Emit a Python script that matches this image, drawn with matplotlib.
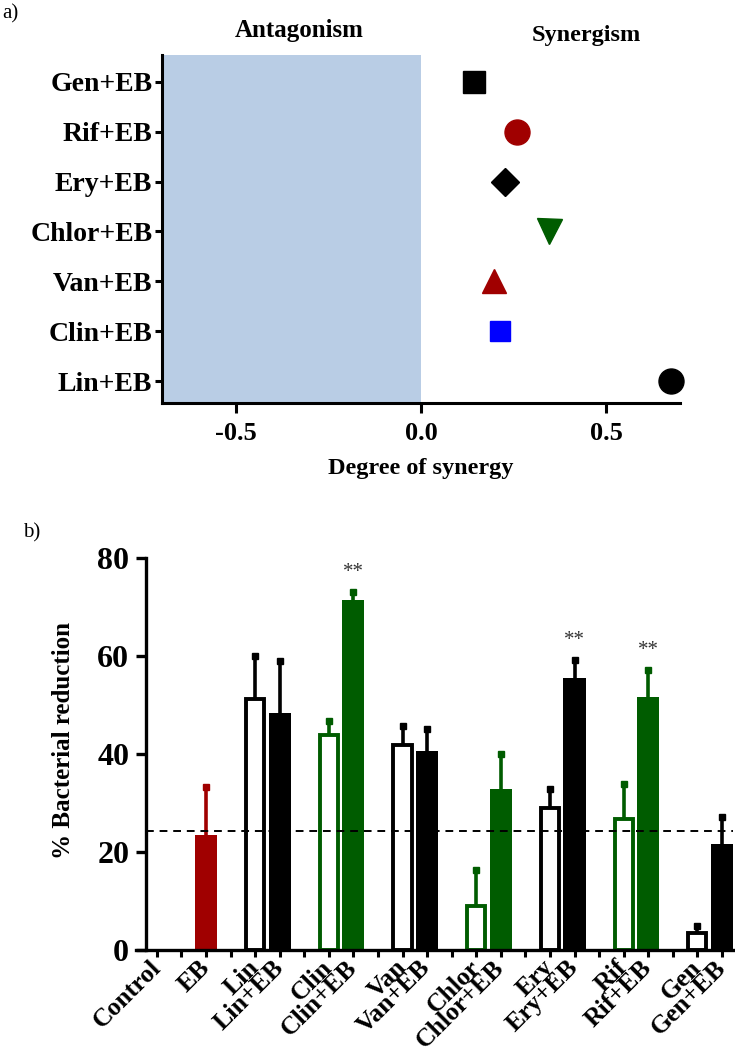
import matplotlib
matplotlib.use("Agg")
import matplotlib.pyplot as plt
from matplotlib.transforms import blended_transform_factory

plt.rcParams['font.family'] = ['Liberation Serif', 'DejaVu Serif']
plt.rcParams['font.weight'] = 'bold'
plt.rcParams['axes.unicode_minus'] = False

# ---- panel a data (bottom to top) ----
combos = ['Lin+EB', 'Clin+EB', 'Van+EB', 'Chlor+EB', 'Ery+EB', 'Rif+EB', 'Gen+EB']
synergy = [0.675, 0.214, 0.197, 0.345, 0.227, 0.259, 0.143]
combo_markers = ['o', 's', '^', 'v', 'D', 'o', 's']
combo_colors = ['black', '#0000ff', '#a00000', '#005c00', 'black', '#a00000', 'black']
combo_sizes = [18, 15, 17, 18, 14, 18, 16]

# ---- panel b data ----
groups = [['Control'], ['EB'], ['Lin', 'Lin+EB'], ['Clin', 'Clin+EB'],
          ['Van', 'Van+EB'], ['Chlor', 'Chlor+EB'], ['Ery', 'Ery+EB'],
          ['Rif', 'Rif+EB'], ['Gen', 'Gen+EB']]
reduction = {'Control': 0, 'EB': 23.5, 'Lin': 51.3, 'Lin+EB': 48.3,
             'Clin': 43.9, 'Clin+EB': 71.4, 'Van': 41.8, 'Van+EB': 40.6,
             'Chlor': 8.9, 'Chlor+EB': 32.9, 'Ery': 29.0, 'Ery+EB': 55.6,
             'Rif': 26.8, 'Rif+EB': 51.6, 'Gen': 3.4, 'Gen+EB': 21.7}
reduction_err = {'Control': 0, 'EB': 9.7, 'Lin': 8.7, 'Lin+EB': 10.7,
                 'Clin': 2.8, 'Clin+EB': 1.6, 'Van': 4.0, 'Van+EB': 4.6,
                 'Chlor': 7.5, 'Chlor+EB': 7.0, 'Ery': 3.9, 'Ery+EB': 3.5,
                 'Rif': 7.1, 'Rif+EB': 5.6, 'Gen': 1.5, 'Gen+EB': 5.4}
eb_level = 24.3
significant = ['Clin+EB', 'Ery+EB', 'Rif+EB']

RED = '#a00000'
GREEN = '#005c00'
bar_colors = {'EB': RED, 'Clin': GREEN, 'Clin+EB': GREEN, 'Chlor': GREEN,
              'Chlor+EB': GREEN, 'Rif': GREEN, 'Rif+EB': GREEN}
open_bars = ['Lin', 'Clin', 'Van', 'Chlor', 'Ery', 'Rif', 'Gen']

W, H = 735, 1058
fig = plt.figure(figsize=(W / 100, H / 100), dpi=100)

# ================= panel a =================
ax1 = fig.add_axes([162 / W, 1 - 403 / H, (680 - 162) / W, (403 - 55) / H])
ypos = list(range(len(combos)))
ax1.axvspan(-0.7, 0, color='#b9cde5', lw=0, zorder=0)
for y, v, m, c, s in zip(ypos, synergy, combo_markers, combo_colors, combo_sizes):
    ax1.plot(v, y, marker=m, color=c, markersize=s, linestyle='none', zorder=3,
             clip_on=False)
ax1.set_xlim(-0.7, 0.7)
ax1.set_ylim(-0.44, 6.54)
ax1.set_xticks([-0.5, 0.0, 0.5])
ax1.set_xticklabels(['-0.5', '0.0', '0.5'])
ax1.set_yticks(ypos)
ax1.set_yticklabels(combos)
for sp in ['top', 'right']:
    ax1.spines[sp].set_visible(False)
for sp in ['left', 'bottom']:
    ax1.spines[sp].set_linewidth(2.2)
ax1.tick_params(axis='x', length=7, width=2.2, labelsize=19, pad=7)
ax1.tick_params(axis='y', length=5, width=2.2, labelsize=20, pad=2)
ax1.set_xlabel('Degree of synergy', fontsize=17.5, fontweight='bold', labelpad=9)
trans = blended_transform_factory(ax1.transData, ax1.transAxes)
ax1.text(-0.33, 1.069, 'Antagonism', transform=trans, ha='center', va='center',
         fontsize=18, fontweight='bold')
ax1.text(0.446, 1.057, 'Synergism', transform=trans, ha='center', va='center',
         fontsize=17.5, fontweight='bold')
fig.text(2 / W, 1 - 14 / H, 'a)', fontsize=15, fontweight='normal', va='center')

# ================= panel b =================
ax2 = fig.add_axes([136 / W, 1 - 950 / H, (733 - 136) / W, (950 - 558) / H])
names, slots = [], []
pos = 0
for g in groups:
    for n in g:
        names.append(n)
        slots.append(pos)
        pos += 1
    pos += 1
all_ticks = list(range(pos - 1))

for n, x in zip(names, slots):
    v = reduction[n]
    e = reduction_err[n]
    c = bar_colors.get(n, 'black')
    if n in open_bars:
        ax2.bar(x, v, width=0.74, facecolor='white', edgecolor=c, linewidth=2.8, zorder=2)
    elif v > 0:
        ax2.bar(x, v, width=0.9, color=c, linewidth=0, zorder=2)
    if e > 0:
        ax2.errorbar(x, v, yerr=[[0], [e]], fmt='none', ecolor=c, elinewidth=2.6,
                     capsize=0, zorder=3)
        ax2.plot(x, v + e, marker='s', markersize=5, color=c, linestyle='none', zorder=3)
    if n in significant:
        ax2.text(x, v + e + 4, '**', ha='center', va='center', fontsize=15,
                 fontweight='normal', color='#333333')

ax2.hlines(eb_level, -0.45, 23.45, colors='black', linestyles=(0, (4, 3)),
           linewidth=1.4, zorder=4)
ax2.set_xlim(-0.85, 23.45)
ax2.set_ylim(0, 80)
ax2.spines['left'].set_position(('data', -0.45))
for sp in ['top', 'right']:
    ax2.spines[sp].set_visible(False)
for sp in ['left', 'bottom']:
    ax2.spines[sp].set_linewidth(2.4)
ax2.set_yticks([0, 20, 40, 60, 80])
ax2.tick_params(axis='y', length=7, width=2.4, labelsize=23, pad=5)
ax2.set_xticks(all_ticks)
tick_labels = [''] * len(all_ticks)
for n, x in zip(names, slots):
    tick_labels[x] = n
ax2.set_xticklabels(tick_labels, rotation=45, ha='right', va='center',
                    rotation_mode='anchor', fontsize=18.5, fontweight='bold')
ax2.tick_params(axis='x', length=5, width=2.2, pad=5)
ax2.set_ylabel('% Bacterial reduction', fontsize=18, fontweight='bold')
ax2.yaxis.set_label_coords(-0.102, 0.535)
fig.text(23 / W, 1 - 533 / H, 'b)', fontsize=15, fontweight='normal', va='center')

fig.savefig('out.png', dpi=100)
